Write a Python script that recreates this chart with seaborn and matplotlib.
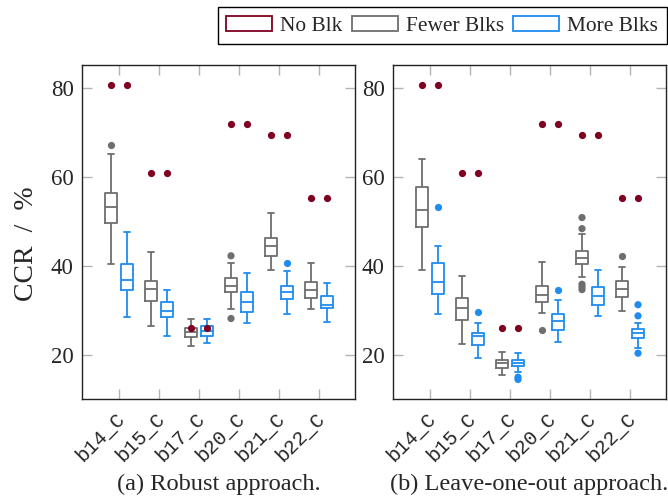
import numpy as np
import pandas as pd
import seaborn as sns
import matplotlib.pyplot as plt
from matplotlib.patches import Patch
from matplotlib.transforms import ScaledTranslation

# ==== Data ====
circuits = ["b14_C", "b15_C", "b17_C", "b20_C", "b21_C", "b22_C"]
groups = ["Fewer Blks", "More Blks"]

# five-number summaries per circuit: [low whisker, Q1, median, Q3, high whisker]
robust_fewer = [[40.4, 49.6, 53.3, 56.4, 65.2],
                [26.6, 32.2, 34.8, 36.7, 43.1],
                [22.0, 24.1, 25.1, 26.1, 28.2],
                [30.3, 34.1, 35.5, 37.3, 40.6],
                [39.2, 42.2, 44.5, 46.3, 51.9],
                [30.3, 32.7, 34.7, 36.3, 40.7]]
robust_more = [[28.5, 34.6, 36.8, 40.4, 47.7],
               [24.3, 28.5, 29.9, 31.8, 34.6],
               [22.7, 24.2, 25.3, 26.6, 28.0],
               [27.3, 29.6, 31.8, 34.2, 38.5],
               [29.1, 32.6, 34.2, 35.6, 38.9],
               [27.4, 30.5, 31.2, 33.2, 36.2]]
robust_none = [80.8, 60.9, 26.1, 72.0, 69.5, 55.4]
robust_fewer_out = {"b14_C": [67.1], "b20_C": [42.3, 28.2]}
robust_more_out = {"b21_C": [40.6]}

loo_fewer = [[39.2, 48.7, 52.6, 57.7, 64.0],
             [22.5, 27.9, 30.6, 32.8, 37.7],
             [15.6, 17.0, 18.1, 18.9, 20.7],
             [29.4, 31.9, 33.4, 35.6, 41.0],
             [37.5, 40.4, 41.9, 43.4, 47.2],
             [29.9, 33.0, 34.9, 36.6, 39.7]]
loo_more = [[29.1, 33.6, 36.5, 40.7, 44.6],
            [19.3, 22.2, 24.2, 24.9, 27.1],
            [16.1, 17.5, 18.2, 18.9, 20.4],
            [23.0, 25.7, 27.7, 29.1, 32.3],
            [28.8, 31.2, 33.3, 35.3, 39.1],
            [21.6, 23.9, 24.9, 25.8, 27.3]]
loo_none = [80.8, 60.9, 26.1, 72.0, 69.5, 55.4]
loo_fewer_out = {"b20_C": [25.6], "b21_C": [48.4, 50.9, 35.9, 35.3, 34.7],
                 "b22_C": [42.2]}
loo_more_out = {"b14_C": [53.2], "b15_C": [29.7], "b17_C": [15.0, 14.5],
                "b20_C": [34.5], "b22_C": [28.8, 31.3, 20.4]}

C_NONE = "#7f0020"
C_FEW = "#6e6e6e"
C_MORE = "#1e8cf0"
SERIF = "Liberation Serif"
MONO = "Liberation Mono"


def long_frame(fewer, more):
    rows = []
    for name, vals in zip(groups, [fewer, more]):
        for c, five in zip(circuits, vals):
            for v in five:
                rows.append((c, name, v))
    return pd.DataFrame(rows, columns=["circuit", "group", "ccr"])


def outlier_frame(fewer_out, more_out):
    rows = []
    for name, d in zip(groups, [fewer_out, more_out]):
        for c, vals in d.items():
            for v in vals:
                rows.append((c, name, v))
    return pd.DataFrame(rows, columns=["circuit", "group", "ccr"])


def none_frame(none):
    rows = [(c, g, v) for c, v in zip(circuits, none) for g in groups]
    return pd.DataFrame(rows, columns=["circuit", "group", "ccr"])


def draw_panel(ax, fewer, more, none, fewer_out, more_out, caption):
    pal = {"Fewer Blks": C_FEW, "More Blks": C_MORE}
    sns.boxplot(data=long_frame(fewer, more), x="circuit", y="ccr", hue="group",
                order=circuits, hue_order=groups, palette=pal, fill=False,
                whis=(0, 100), width=0.8, gap=0.2, linewidth=1.3,
                showfliers=False, legend=False, ax=ax)
    sns.stripplot(data=outlier_frame(fewer_out, more_out), x="circuit", y="ccr",
                  hue="group", order=circuits, hue_order=groups, palette=pal,
                  dodge=True, jitter=False, size=5.2, linewidth=0,
                  legend=False, ax=ax, zorder=4)
    sns.stripplot(data=none_frame(none), x="circuit", y="ccr", hue="group",
                  order=circuits, hue_order=groups,
                  palette={g: C_NONE for g in groups}, dodge=True, jitter=False,
                  size=5.2, linewidth=0, legend=False, ax=ax, zorder=5)

    ax.set_xlim(-0.925, 5.9)
    ax.set_ylim(10.1, 85.2)
    ax.set_yticks([20, 40, 60, 80])
    ax.set_xticks(range(len(circuits)))
    ax.set_xticklabels(circuits, rotation=45, ha="right", va="center",
                       rotation_mode="anchor", fontfamily=MONO, fontsize=14.5)
    for lab in ax.get_yticklabels():
        lab.set_fontfamily(SERIF)
        lab.set_fontsize(16.5)
    ax.tick_params(axis="both", direction="in", top=True, right=True,
                   length=7, width=1, color="#b4b4b4")
    ax.tick_params(axis="x", pad=12)
    ax.tick_params(axis="y", pad=6)
    # pgfplots puts the rotated labels a little to the right of the tick
    shift = ScaledTranslation(3 / 100, 0, ax.figure.dpi_scale_trans)
    for lab in ax.get_xticklabels():
        lab.set_transform(lab.get_transform() + shift)
    for s in ax.spines.values():
        s.set_color("#222222")
        s.set_linewidth(1.0)
    ax.set_xlabel("")
    ax.set_ylabel("")
    ax.text(0.5, -(490 - 399) / 334, caption, transform=ax.transAxes,
            ha="center", va="baseline", fontfamily=SERIF, fontsize=17.6)


sns.set_style("ticks")
plt.rcParams["font.family"] = [SERIF, "DejaVu Sans"]
plt.rcParams["axes.unicode_minus"] = False

fig = plt.figure(figsize=(6.68, 4.96), dpi=100)
ax1 = fig.add_axes([82 / 668, 97 / 496, 273 / 668, 334 / 496])
ax2 = fig.add_axes([393 / 668, 97 / 496, 273 / 668, 334 / 496])

draw_panel(ax1, robust_fewer, robust_more, robust_none,
           robust_fewer_out, robust_more_out, "(a) Robust approach.")
draw_panel(ax2, loo_fewer, loo_more, loo_none,
           loo_fewer_out, loo_more_out, "(b) Leave-one-out approach.")
ax1.set_ylabel("CCR  /  %", fontfamily=SERIF, fontsize=20)
ax1.yaxis.set_label_coords(-0.158, 0.465)

handles = [Patch(facecolor="white", edgecolor=c, linewidth=1.3)
           for c in [C_NONE, C_FEW, C_MORE]]
leg = fig.legend(handles, ["No Blk", "Fewer Blks", "More Blks"], ncol=3,
                 loc="upper right", bbox_to_anchor=(666.5 / 668, 1 - 7 / 496),
                 prop={"family": SERIF, "size": 15.4}, frameon=True,
                 fancybox=False, edgecolor="black", framealpha=1,
                 handlelength=2.15, handleheight=0.7, handletextpad=0.36,
                 columnspacing=0.45, borderpad=0.4, borderaxespad=0)
leg.get_frame().set_linewidth(1.0)

fig.savefig("out.png", dpi=100)
